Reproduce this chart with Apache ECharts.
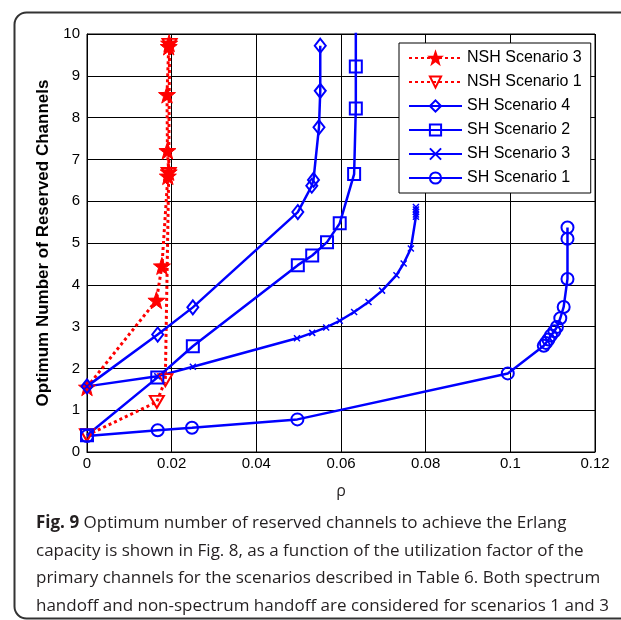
<!DOCTYPE html>
<html>
<head>
<meta charset="utf-8">
<script src="https://cdn.jsdelivr.net/npm/echarts@6/dist/echarts.min.js"></script>
<style>
html, body { margin: 0; padding: 0; background: #fff; }
#chart { width: 621px; height: 620px; }
</style>
</head>
<body>
<div id="chart"></div>
<script>
// values (rho, reserved channels)
var nsh3X = [0, 0.0164, 0.0177, 0.0191, 0.0193, 0.019, 0.0189, 0.0193, 0.0194];
var nsh3Y = [1.55, 3.63, 4.45, 6.6, 6.7, 7.21, 8.55, 9.7, 9.78];

var nsh1X = [0, 0.0165, 0.0185, 0.0193, 0.0195];
var nsh1Y = [0.4, 1.2, 1.72, 6.65, 9.74];

var sh4X = [0, 0.0167, 0.025, 0.0498, 0.0531, 0.0535, 0.0548, 0.0551, 0.0551];
var sh4Y = [1.57, 2.81, 3.46, 5.74, 6.37, 6.51, 7.77, 8.64, 9.72];

var sh2X = [0, 0.0166, 0.025, 0.0498, 0.0532, 0.0567, 0.0597, 0.0631, 0.0635, 0.0635, 0.0635];
var sh2Y = [0.4, 1.78, 2.53, 4.47, 4.7, 5.02, 5.47, 6.65, 8.22, 9.22, 10.6];

var sh3X = [0, 0.0166, 0.025, 0.0496, 0.0532, 0.0565, 0.0597, 0.0631, 0.0665, 0.0697, 0.0731, 0.0748, 0.0765, 0.0777, 0.0777, 0.0777, 0.0777, 0.0777];
var sh3Y = [1.57, 1.81, 2.04, 2.72, 2.85, 2.98, 3.14, 3.35, 3.59, 3.86, 4.23, 4.51, 4.87, 5.63, 5.68, 5.74, 5.8, 5.86];

var sh1X = [0, 0.0167, 0.0248, 0.0497, 0.0994, 0.1079, 0.1084, 0.109, 0.1096, 0.1104, 0.111, 0.1118, 0.1126, 0.1135, 0.1135, 0.1135];
var sh1Y = [0.38, 0.52, 0.58, 0.78, 1.88, 2.54, 2.61, 2.69, 2.79, 2.89, 2.99, 3.2, 3.47, 4.14, 5.1, 5.37];

var seriesNames = ['NSH Scenario 3', 'NSH Scenario 1', 'SH Scenario 4', 'SH Scenario 2', 'SH Scenario 3', 'SH Scenario 1'];
var xTicks = [0, 0.02, 0.04, 0.06, 0.08, 0.1, 0.12];
var yTicks = [0, 1, 2, 3, 4, 5, 6, 7, 8, 9, 10];

var caption = [
    ['Fig. 9', ' Optimum number of reserved channels to achieve the Erlang'],
    ['', 'capacity is shown in Fig. 8, as a function of the utilization factor of the'],
    ['', 'primary channels for the scenarios described in Table 6. Both spectrum'],
    ['', 'handoff and non-spectrum handoff are considered for scenarios 1 and 3']
];

function pairs(xs, ys) {
    return xs.map(function (x, i) { return [x, ys[i]]; });
}

var RED = '#ff0000';
var BLUE = '#0000ff';
var starPath = 'path://M0,-10 L2.35,-3.24 L9.51,-3.09 L3.8,1.24 L5.88,8.09 L0,4 L-5.88,8.09 L-3.8,1.24 L-9.51,-3.09 L-2.35,-3.24 Z';
var crossPath = 'path://M0,0 L10,10 M10,0 L0,10';

function hollow(color) {
    return { color: 'rgba(255,255,255,0)', borderColor: color, borderWidth: 2 };
}

var chart = echarts.init(document.getElementById('chart'));

var captionGraphics = caption.map(function (line, i) {
    return {
        type: 'text',
        left: 36,
        top: 515 + i * 27.4,
        style: {
            text: (line[0] ? '{b|' + line[0] + '}' : '') + '{n|' + line[1] + '}',
            rich: {
                b: { fontFamily: 'Open Sans', fontWeight: 'bold', fontSize: 17, fill: '#231f20' },
                n: { fontFamily: 'Open Sans', fontSize: 17, fill: '#231f20' }
            }
        }
    };
});

chart.setOption({
    animation: false,
    backgroundColor: '#fff',
    textStyle: { fontFamily: 'Liberation Sans, Arial, sans-serif' },
    graphic: [{
        type: 'rect',
        left: 12,
        top: 10,
        shape: { width: 700, height: 606, r: 12 },
        style: { fill: 'none', stroke: '#333', lineWidth: 2 },
        silent: true
    }].concat(captionGraphics),
    grid: {
        left: 87,
        top: 34,
        right: 26,
        bottom: 168,
        show: true,
        borderColor: '#000',
        borderWidth: 1,
        backgroundColor: '#fff'
    },
    legend: {
        data: seriesNames,
        orient: 'vertical',
        left: 399,
        top: 43,
        backgroundColor: '#fff',
        borderColor: '#000',
        borderWidth: 1,
        borderRadius: 0,
        padding: [7, 9, 7, 9],
        itemGap: 8,
        itemWidth: 53,
        itemHeight: 14,
        textStyle: { fontSize: 16, color: '#000', fontFamily: 'Liberation Sans, Arial' }
    },
    xAxis: {
        type: 'value',
        min: xTicks[0],
        max: xTicks[xTicks.length - 1],
        interval: 0.02,
        name: 'ρ',
        nameLocation: 'middle',
        nameGap: 31,
        nameTextStyle: { fontFamily: 'Open Sans', fontSize: 16, color: '#231f20' },
        axisLine: { show: true, lineStyle: { color: '#000', width: 1 } },
        axisTick: { show: false },
        axisLabel: { fontSize: 15, color: '#000', margin: 4 },
        splitLine: { show: true, lineStyle: { color: '#000', width: 1 } }
    },
    yAxis: {
        type: 'value',
        min: yTicks[0],
        max: yTicks[yTicks.length - 1],
        interval: 1,
        name: 'Optimum Number of Reserved Channels',
        nameLocation: 'middle',
        nameGap: 35,
        nameTextStyle: { fontSize: 17, fontWeight: 'bold', color: '#000', fontFamily: 'Liberation Sans, Arial' },
        axisLine: { show: true, lineStyle: { color: '#000', width: 1 } },
        axisTick: { show: false },
        axisLabel: { fontSize: 15, color: '#000', margin: 7 },
        splitLine: { show: true, lineStyle: { color: '#000', width: 1 } }
    },
    series: [
        {
            name: seriesNames[0],
            type: 'line',
            data: pairs(nsh3X, nsh3Y),
            symbol: starPath,
            symbolSize: 17,
            itemStyle: { color: RED, borderColor: RED, borderWidth: 1 },
            lineStyle: { color: RED, width: 3, type: [3, 3] },
            emphasis: { disabled: true }
        },
        {
            name: seriesNames[1],
            type: 'line',
            data: pairs(nsh1X, nsh1Y),
            symbol: 'triangle',
            symbolRotate: 180,
            symbolSize: [14, 12],
            itemStyle: hollow(RED),
            lineStyle: { color: RED, width: 3, type: [3, 3] },
            emphasis: { disabled: true }
        },
        {
            name: seriesNames[2],
            type: 'line',
            data: pairs(sh4X, sh4Y),
            symbol: 'diamond',
            symbolSize: [11, 14],
            itemStyle: hollow(BLUE),
            lineStyle: { color: BLUE, width: 2.5 },
            emphasis: { disabled: true }
        },
        {
            name: seriesNames[3],
            type: 'line',
            data: pairs(sh2X, sh2Y),
            symbol: 'rect',
            symbolSize: 12,
            itemStyle: hollow(BLUE),
            lineStyle: { color: BLUE, width: 2.5 },
            clip: true,
            emphasis: { disabled: true }
        },
        {
            name: seriesNames[4],
            type: 'line',
            data: pairs(sh3X, sh3Y),
            symbol: crossPath,
            symbolSize: 6,
            itemStyle: { color: BLUE, borderColor: BLUE, borderWidth: 1.5 },
            lineStyle: { color: BLUE, width: 2.5 },
            emphasis: { disabled: true }
        },
        {
            name: seriesNames[5],
            type: 'line',
            data: pairs(sh1X, sh1Y),
            symbol: 'circle',
            symbolSize: 12,
            itemStyle: hollow(BLUE),
            lineStyle: { color: BLUE, width: 2.5 },
            emphasis: { disabled: true }
        }
    ]
});
</script>
</body>
</html>
